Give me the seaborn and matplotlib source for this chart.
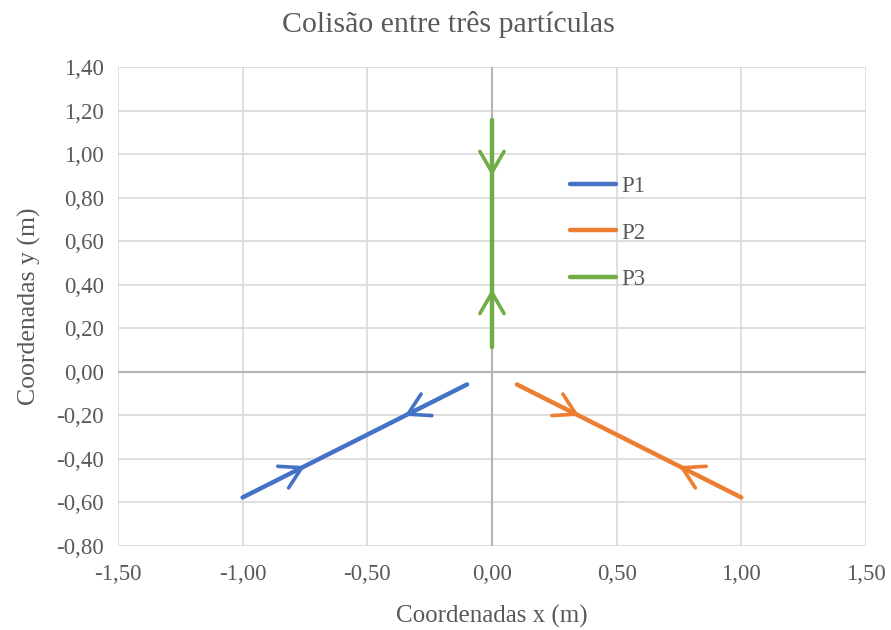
import numpy as np
import pandas as pd
import matplotlib
matplotlib.use("Agg")
import matplotlib.pyplot as plt
import seaborn as sns

# ---- data ----
series = ["P1", "P2", "P3"]
p1_x = [-1.0, -0.1]
p1_y = [-0.577, -0.058]
p2_x = [0.1, 1.0]
p2_y = [-0.058, -0.577]
p3_x = [0.0, 0.0]
p3_y = [0.1155, 1.155]

# arrow tips on each path and their direction (+1 along data order, -1 against)
p1_arrow_x = [-0.75, -0.35]
p1_arrow_y = [-0.433, -0.202]
p1_arrow_dir = [1, -1]
p2_arrow_x = [0.35, 0.75]
p2_arrow_y = [-0.202, -0.433]
p2_arrow_dir = [1, -1]
p3_arrow_x = [0.0, 0.0]
p3_arrow_y = [0.90, 0.38]
p3_arrow_dir = [-1, 1]

x_ticks = [-1.5, -1.0, -0.5, 0.0, 0.5, 1.0, 1.5]
y_ticks = [-0.8, -0.6, -0.4, -0.2, 0.0, 0.2, 0.4, 0.6, 0.8, 1.0, 1.2, 1.4]
colors = ["#4472C4", "#ED7D31", "#70AD47"]

df = pd.DataFrame({
    "x": p1_x + p2_x + p3_x,
    "y": p1_y + p2_y + p3_y,
    "s": ["P1"] * len(p1_x) + ["P2"] * len(p2_x) + ["P3"] * len(p3_x),
})

sns.set_theme(style="white")
plt.rcParams["font.family"] = ["Liberation Serif", "DejaVu Serif"]
txt = "#595959"

fig = plt.figure(figsize=(8.91, 6.3), dpi=100)
ax = fig.add_axes([0.1324, 0.1333, 0.8395, 0.7604])

ax.set_xlim(-1.5, 1.5)
ax.set_ylim(-0.8, 1.4)
ax.set_xticks(x_ticks)
ax.set_yticks(y_ticks)
ax.set_xticklabels([f"{v:.2f}".replace(".", ",") for v in x_ticks])
ax.set_yticklabels([f"{v:.2f}".replace(".", ",") for v in y_ticks])
ax.tick_params(length=0, labelsize=16.5, colors=txt)
ax.tick_params(axis="x", pad=13)
ax.tick_params(axis="y", pad=10)
ax.grid(True, color="#d9d9d9", lw=1.2)
ax.set_axisbelow(True)
for sp in ax.spines.values():
    sp.set_visible(False)
ax.axhline(0, color="#b4b4b4", lw=1.5, zorder=1)
ax.axvline(0, color="#b4b4b4", lw=1.5, zorder=1)

sns.lineplot(data=df, x="x", y="y", hue="s", palette=colors, sort=False,
             estimator=None, lw=3.2, ax=ax, zorder=3)

arrows = [
    (p1_x, p1_y, p1_arrow_x, p1_arrow_y, p1_arrow_dir, colors[0]),
    (p2_x, p2_y, p2_arrow_x, p2_arrow_y, p2_arrow_dir, colors[1]),
    (p3_x, p3_y, p3_arrow_x, p3_arrow_y, p3_arrow_dir, colors[2]),
]
for lx, ly, axs, ays, dirs, c in arrows:
    dx, dy = lx[-1] - lx[0], ly[-1] - ly[0]
    n = np.hypot(dx, dy)
    ux, uy = dx / n, dy / n
    for tx, ty, d in zip(axs, ays, dirs):
        ax.annotate("", xy=(tx, ty), xytext=(tx - d * ux * 0.02, ty - d * uy * 0.02),
                    arrowprops=dict(arrowstyle="->,head_length=1.5,head_width=0.87",
                                    mutation_scale=10, color=c, lw=2.6,
                                    shrinkA=0, shrinkB=0),
                    zorder=4)

ax.set_xlabel("Coordenadas x (m)", fontsize=18, color=txt, labelpad=14)
ax.set_ylabel("Coordenadas y (m)", fontsize=18.5, color=txt, labelpad=11)
fig.suptitle("Colisão entre três partículas", fontsize=21.5, color=txt, x=0.503, y=0.982)

leg = ax.legend(loc="upper left", bbox_to_anchor=(0.577, 0.815), frameon=False,
                fontsize=16.5, handlelength=2.0, handletextpad=0.25, labelspacing=1.1)
for t in leg.get_texts():
    t.set_color(txt)

fig.savefig("out.png", dpi=100)
